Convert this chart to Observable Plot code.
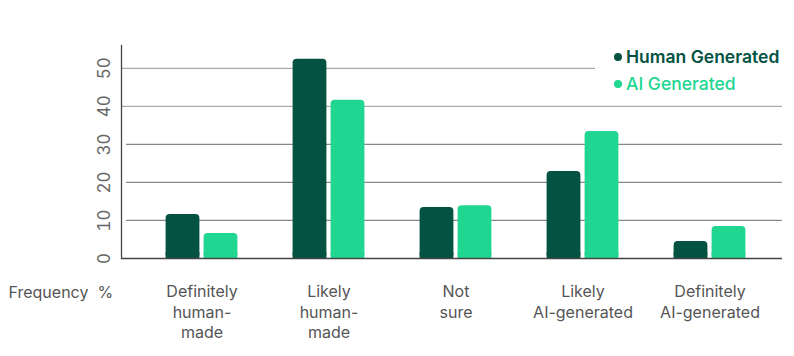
<!DOCTYPE html>
<html>
<head>
<meta charset="utf-8">
<script src="https://cdn.jsdelivr.net/npm/d3@7"></script>
<script src="https://cdn.jsdelivr.net/npm/@observablehq/plot@0.6"></script>
<style>
  body { margin: 0; background: #fff; }
  #wrap { position: relative; width: 794px; height: 356px; font-family: Inter, "Noto Sans", sans-serif; }
  #legend { position: absolute; left: 614px; top: 43px; font-size: 17.5px; line-height: 27px; }
  #legend div { display: flex; align-items: center; white-space: nowrap; }
  #legend span.dot { display: inline-block; width: 8px; height: 8px; border-radius: 50%; margin-right: 4px; }
</style>
</head>
<body>
<div id="wrap"></div>
<script>
const categories = ["Definitely\nhuman-\nmade", "Likely\nhuman-\nmade", "Not\nsure", "Likely\nAI-generated", "Definitely\nAI-generated"];
const series = ["Human Generated", "AI Generated"];
const humanValues = [11.6, 52.4, 13.4, 22.9, 4.5];
const aiValues = [6.6, 41.6, 13.9, 33.4, 8.4];
const yTicks = [0, 10, 20, 30, 40, 50];
const colors = ["#045242", "#20d690"];
const yLabel = "Frequency\u00a0 %";

const humanRows = categories.map((c, i) => ({category: c, series: series[0], value: humanValues[i]}));
const aiRows = categories.map((c, i) => ({category: c, series: series[1], value: aiValues[i]}));

const barOpts = {x: "category", y: "value", insetLeft: 46.6, insetRight: 46.6, rx: 4};
const footOpts = {x: "category", y1: 0, y2: d => Math.min(d.value, 1.5), insetLeft: 46.6, insetRight: 46.6};

const chart = Plot.plot({
  width: 794,
  height: 356,
  marginTop: 45,
  marginBottom: 98,
  marginLeft: 121,
  marginRight: 12,
  style: {fontFamily: "Inter, 'Noto Sans', sans-serif", background: "#fff"},
  x: {domain: categories, padding: 0, insetLeft: 16.5, insetRight: 8.5, axis: null},
  y: {domain: [0, 56], ticks: yTicks, label: null},
  marks: [
    Plot.ruleY([40], {stroke: "#aaa", strokeWidth: 1.2}),
    Plot.ruleY([50], {stroke: "#aaa", strokeWidth: 1.2, insetRight: 187}),
    Plot.ruleY([10, 20, 30], {stroke: "#888", strokeWidth: 1.2, insetLeft: 5}),
    Plot.axisY({ticks: yTicks, tickSize: 0, tickPadding: 12, tickRotate: -90, fontSize: 17, color: "#666", label: null}),
    Plot.barY(humanRows, {...barOpts, fill: colors[0], dx: -19}),
    Plot.barY(humanRows, {...footOpts, fill: colors[0], dx: -19}),
    Plot.barY(aiRows, {...barOpts, fill: colors[1], dx: 19}),
    Plot.barY(aiRows, {...footOpts, fill: colors[1], dx: 19}),
    Plot.ruleY([0], {stroke: "#444", strokeWidth: 1.3}),
    Plot.frame({anchor: "left", stroke: "#444", strokeWidth: 1.3}),
    Plot.text(categories, {x: d => d, y: 0, text: d => d, lineAnchor: "top", dy: 24, lineHeight: 1.28, fontSize: 16, fill: "#555"}),
    Plot.text([yLabel], {frameAnchor: "bottom-left", textAnchor: "start", lineAnchor: "middle", dx: -113, dy: 34, fontSize: 16, fill: "#555"})
  ]
});

const wrap = document.getElementById("wrap");
wrap.appendChild(chart);
const legend = document.createElement("div");
legend.id = "legend";
series.forEach((s, i) => {
  const row = document.createElement("div");
  row.style.color = colors[i];
  row.style.fontWeight = i === 0 ? "600" : "500";
  const dot = document.createElement("span");
  dot.className = "dot";
  dot.style.background = colors[i];
  row.appendChild(dot);
  row.appendChild(document.createTextNode(s));
  legend.appendChild(row);
});
wrap.appendChild(legend);
</script>
</body>
</html>
